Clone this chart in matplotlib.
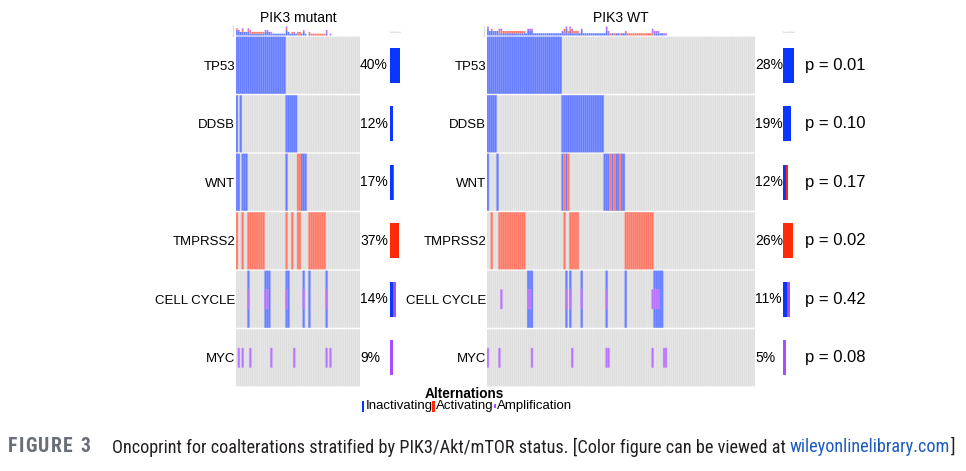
import matplotlib
matplotlib.use("Agg")
import matplotlib.pyplot as plt
from matplotlib import font_manager
from matplotlib.patches import Rectangle
from matplotlib.transforms import blended_transform_factory
import numpy as np

# ---------------- data ----------------
genes = ["TP53", "DDSB", "WNT", "TMPRSS2", "CELL CYCLE", "MYC"]
panel_titles = ["PIK3 mutant", "PIK3 WT"]
n_samples = [65, 140]
pct_mut = ["40%", "12%", "17%", "37%", "14%", "9%"]
pct_wt = ["28%", "19%", "12%", "26%", "11%", "5%"]
p_values = ["p = 0.01", "p = 0.10", "p = 0.17", "p = 0.02", "p = 0.42", "p = 0.08"]

# altered sample runs (first, last) per gene, PIK3 mutant panel
mut_inactivating = {
    "TP53": [(0, 25)],
    "DDSB": [(0, 0), (2, 2), (26, 31)],
    "WNT": [(0, 1), (3, 5), (26, 26), (34, 36)],
    "CELL CYCLE": [(6, 6), (15, 17), (26, 27), (35, 35), (38, 38), (47, 47)],
}
mut_activating = {
    "WNT": [(32, 33)],
    "TMPRSS2": [(0, 0), (3, 3), (6, 14), (26, 26), (29, 29), (32, 33), (38, 46)],
}
mut_amplification = {
    "CELL CYCLE": [(6, 6), (15, 16), (26, 26), (35, 35), (47, 47)],
    "MYC": [(1, 1), (3, 3), (7, 7), (18, 18), (30, 30), (47, 47), (49, 49)],
}

# PIK3 WT panel
wt_inactivating = {
    "TP53": [(0, 38)],
    "DDSB": [(0, 4), (39, 60)],
    "WNT": [(0, 0), (5, 5), (39, 39), (41, 41), (61, 63), (65, 65), (67, 68), (70, 71)],
    "CELL CYCLE": [(21, 23), (41, 41), (43, 43), (49, 49), (62, 62), (72, 72), (87, 91)],
}
wt_activating = {
    "WNT": [(40, 40), (42, 42), (64, 64), (66, 66), (69, 69)],
    "TMPRSS2": [(2, 2), (6, 19), (40, 40), (43, 47), (72, 86)],
}
wt_amplification = {
    "CELL CYCLE": [(7, 7), (21, 22), (41, 41), (43, 43), (49, 49), (62, 62), (86, 89)],
    "MYC": [(0, 0), (6, 6), (23, 23), (44, 44), (62, 63), (86, 86), (92, 93)],
}

alt_types = ["Inactivating", "Activating", "Amplification"]

# ---------------- style ----------------
W, H = 966, 471
cell_gray = "#DEDEDE"
gray_edge = "#E9E9E9"
cell_colors = {"Inactivating": "#667EFF", "Activating": "#FF7966", "Amplification": "#B974FF"}
cell_edges = {"Inactivating": "#8396FF", "Activating": "#FF9484", "Amplification": "#C891FF"}
bar_colors = {"Inactivating": "#0A36FF", "Activating": "#FF2A0A", "Amplification": "#A94BFF"}

names = {f.name for f in font_manager.fontManager.ttflist}
main_font = "Liberation Sans" if "Liberation Sans" in names else "DejaVu Sans"
cap_font = None
for cand in ["Liberation Sans Narrow", "DejaVu Sans Condensed", "Roboto Condensed", "Liberation Sans"]:
    if cand in names:
        cap_font = cand
        break
if cap_font is None:
    cap_font = "DejaVu Sans"
plt.rcParams["font.family"] = [main_font, "DejaVu Sans"]

fig = plt.figure(figsize=(W / 100, H / 100), dpi=100)
fig.patch.set_facecolor("white")


def box(x0, y0, x1, y1):
    return [x0 / W, 1 - y1 / H, (x1 - x0) / W, (y1 - y0) / H]


def build(n, runs_by_type):
    mats = {}
    for t, runs in runs_by_type.items():
        m = np.zeros((len(genes), n), dtype=bool)
        for g, rl in runs.items():
            gi = genes.index(g)
            for a, b in rl:
                m[gi, a:b + 1] = True
        mats[t] = m
    return mats


panels = [
    dict(n=n_samples[0], title=panel_titles[0], pct=pct_mut,
         runs={"Inactivating": mut_inactivating, "Activating": mut_activating,
               "Amplification": mut_amplification},
         hm=(236, 36, 360, 387), top=(236, 26, 360, 35.5), rb=(390, 36, 400, 387)),
    dict(n=n_samples[1], title=panel_titles[1], pct=pct_wt,
         runs={"Inactivating": wt_inactivating, "Activating": wt_activating,
               "Amplification": wt_amplification},
         hm=(487, 36, 755, 387), top=(487, 26, 755, 35.5), rb=(783, 36, 794, 387)),
]

hm_axes = []
for P in panels:
    n = P["n"]
    mats = build(n, P["runs"])
    cols = np.arange(n)

    ax = fig.add_axes(box(*P["hm"]))
    ax.set_xlim(0, n)
    ax.set_ylim(len(genes), 0)
    ax.set_facecolor("white")
    for gi, g in enumerate(genes):
        ax.bar(cols + 0.5, 0.97, bottom=gi + 0.015, width=1.0, color=cell_gray,
               edgecolor=gray_edge, linewidth=0.3, snap=False)
        inc = mats["Inactivating"][gi]
        act = mats["Activating"][gi]
        amp = mats["Amplification"][gi]
        for t, m, hgt, b in (("Inactivating", inc, 0.97, gi + 0.015),
                             ("Activating", act, 0.97, gi + 0.015),
                             ("Amplification", amp, 1 / 3, gi + 1 / 3)):
            if m.any():
                ax.bar(cols[m] + 0.5, hgt, bottom=b, width=1.0, color=cell_colors[t],
                       edgecolor=cell_edges[t], linewidth=0.3, snap=False)
    ax.set_yticks(np.arange(len(genes)) + 0.5)
    ax.set_yticklabels(genes, fontsize=9.5)
    ax.tick_params(axis="y", length=0, pad=0.5)
    ax.set_xticks([])
    for s in ax.spines.values():
        s.set_visible(False)
    for gi, lab in enumerate(P["pct"]):
        ax.text(n, gi + 0.5, lab, fontsize=10, va="center", ha="left")
    hm_axes.append(ax)

    # top annotation: alterations per sample
    axt = fig.add_axes(box(*P["top"]))
    bottom = np.zeros(n)
    for t in alt_types:
        cnt = mats[t].sum(axis=0)
        axt.bar(cols + 0.5, cnt, bottom=bottom, width=0.9, color=cell_colors[t],
                linewidth=0, snap=False)
        bottom = bottom + cnt
    axt.set_xlim(0, n)
    axt.set_ylim(0, bottom.max() * 1.05)
    axt.set_xticks([])
    for k, s in axt.spines.items():
        s.set_visible(k == "left")
    axt.spines["left"].set_color("#BBBBBB")
    axt.spines["left"].set_linewidth(0.4)
    axt.spines["left"].set_position(("outward", 2))
    axt.set_yticks([0, bottom.max()])
    axt.set_yticklabels(["", ""])
    axt.tick_params(axis="y", length=1, width=0.3, colors="#BBBBBB", pad=0.5)
    axt.patch.set_visible(False)

    # row annotation: alterations per gene
    axr = fig.add_axes(box(*P["rb"]))
    left = np.zeros(len(genes))
    for t in alt_types:
        cnt = mats[t].sum(axis=1)
        axr.barh(np.arange(len(genes)) + 0.5, cnt, left=left, height=0.6,
                 color=bar_colors[t], linewidth=0)
        left = left + cnt
    axr.set_ylim(len(genes), 0)
    axr.set_xlim(0, left.max())
    axr.set_yticks([])
    axr.xaxis.tick_top()
    axr.set_xticks(np.linspace(0, left.max(), 5))
    axr.set_xticklabels([""] * 5)
    axr.tick_params(axis="x", length=0.8, width=0.3, colors="#BBBBBB", pad=0)
    for k, s in axr.spines.items():
        s.set_visible(k == "top")
    axr.spines["top"].set_color("#CCCCCC")
    axr.spines["top"].set_linewidth(0.4)
    axr.spines["top"].set_position(("outward", 3))
    axr.patch.set_visible(False)

    cx = (P["hm"][0] + P["hm"][2]) / 2
    fig.text(cx / W, 1 - 17.5 / H, P["title"], fontsize=10, ha="center", va="center")

# p-values
tr = blended_transform_factory(fig.transFigure, hm_axes[1].transData)
for gi, pv in enumerate(p_values):
    fig.text(805 / W, gi + 0.5, pv, transform=tr, fontsize=12, ha="left", va="center")

# legend
fig.canvas.draw()
rend = fig.canvas.get_renderer()
fig.text(464 / W, 1 - 394 / H, "Alternations", fontsize=9.8, fontweight="bold",
         ha="center", va="center")
leg_y = 406
mark_w = 2.2
pieces = []
for t in alt_types:
    tt = fig.text(0, 1 - leg_y / H, t, fontsize=9.5, ha="left", va="center")
    pieces.append(tt)
widths = [p.get_window_extent(rend).width for p in pieces]
total = sum(widths) + len(pieces) * (mark_w + 1.2)
x = 467 - total / 2
for t, p, w in zip(alt_types, pieces, widths):
    if t == "Amplification":
        fig.patches.append(Rectangle((x / W, 1 - (leg_y + 2) / H), mark_w / W, 4 / H,
                                     transform=fig.transFigure, color=bar_colors[t], lw=0))
    else:
        fig.patches.append(Rectangle((x / W, 1 - (leg_y + 5.5) / H), mark_w / W, 11 / H,
                                     transform=fig.transFigure, color=bar_colors[t], lw=0))
    x += mark_w + 1.2
    p.set_x(x / W)
    x += w

# caption
cap_y = 1 - 447 / H
fs = 11.5
body = "Oncoprint for coalterations stratified by PIK3/Akt/mTOR status. [Color figure can be viewed at"
link = "wileyonlinelibrary.com"
t_body = fig.text(112 / W, cap_y, body, fontsize=fs, color="#231F20",
                  family=[cap_font, "DejaVu Sans"], ha="left", va="center")
t_link = fig.text(0, cap_y, link, fontsize=fs, color="#1D5BC0",
                  family=[cap_font, "DejaVu Sans"], ha="left", va="center")
t_end = fig.text(0, cap_y, "]", fontsize=fs, color="#231F20",
                 family=[cap_font, "DejaVu Sans"], ha="left", va="center")


def layout_caption(size):
    for t in (t_body, t_link, t_end):
        t.set_fontsize(size)
    bb = t_body.get_window_extent(rend)
    sp = size * 0.28
    xl = bb.x1 + sp
    t_link.set_x(xl / W)
    bl = t_link.get_window_extent(rend)
    t_end.set_x((bl.x1 + 0.5) / W)
    return t_end.get_window_extent(rend).x1


end = layout_caption(fs)
fs = fs * (956 - 112) / (end - 112)
layout_caption(fs)

# "FIGURE 3" label with letter spacing, spanning roughly x 8..90
label = "FIGURE 3"
chars = []
for ch in label:
    c = fig.text(0, cap_y, ch, fontsize=fs * 1.08, fontweight="bold", color="#6A6E76",
                 family=[cap_font, "DejaVu Sans"], ha="left", va="center")
    chars.append(c)
cw_list = []
for ch, c in zip(label, chars):
    if ch == " ":
        cw_list.append(fs * 0.35)
    else:
        cw_list.append(c.get_window_extent(rend).width)
track = ((90 - 8) - sum(cw_list)) / (len(label) - 1)
track = max(track, 0)
xx = 8
for c, w in zip(chars, cw_list):
    c.set_x(xx / W)
    xx += w + track

fig.savefig("out.png", dpi=100, facecolor="white")
